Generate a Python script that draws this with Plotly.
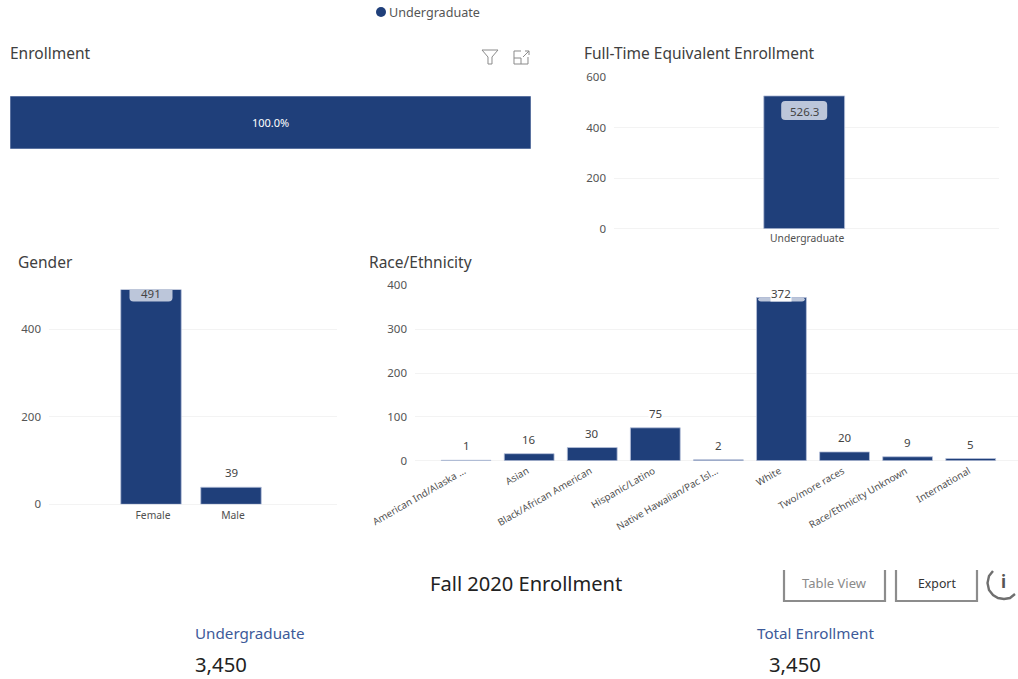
import plotly.graph_objects as go

# Enrollment dashboard, Fall 2020
level_names = ["Undergraduate"]
enrollment_share = [100.0]
fte_values = [526.3]
gender_names = ["Female", "Male"]
gender_values = [491, 39]
race_names = [
    "American Ind/Alaska ...", "Asian", "Black/African American", "Hispanic/Latino",
    "Native Hawaiian/Pac Isl...", "White", "Two/more races", "Race/Ethnicity Unknown",
    "International",
]
race_values = [1, 16, 30, 75, 2, 372, 20, 9, 5]
undergrad_total = 3450
overall_total = 3450

W, H = 1018, 679
NAVY = "#1f3f7a"
EDGE = "#b7c2da"
PILL = "#bcc6da"
GRID = "#f3f3f3"
TICK = "#555555"
TITLE = "#404040"
FONT = "Noto Sans"


def px(x):
    return x / W


def py(y):
    return 1 - y / H


def dom_x(a, b):
    return [px(a), px(b)]


def dom_y(top, bottom):
    return [py(bottom), py(top)]


def paper_path(points, close=False):
    # Dashboard chrome is laid out in page pixels and converted to paper space.
    segs = [f"{'M' if i == 0 else 'L'} {px(x):.5f} {py(y):.5f}" for i, (x, y) in enumerate(points)]
    return " ".join(segs) + (" Z" if close else "")


def chrome_line(points, color, width, close=False):
    return dict(type="path", xref="paper", yref="paper", path=paper_path(points, close),
                line=dict(color=color, width=width), layer="above")


def pill_shape(xref, yref, cat, value, half_w, top, bottom, r):
    # Rounded label backing, anchored to the bar top and clipped by the plot area.
    path = (f"M {-half_w} {-bottom + r} Q {-half_w} {-bottom} {-half_w + r} {-bottom} "
            f"L {half_w - r} {-bottom} Q {half_w} {-bottom} {half_w} {-bottom + r} "
            f"L {half_w} {-top - r} Q {half_w} {-top} {half_w - r} {-top} "
            f"L {-half_w + r} {-top} Q {-half_w} {-top} {-half_w} {-top - r} Z")
    return dict(type="path", xref=xref, yref=yref, xsizemode="pixel", ysizemode="pixel",
                xanchor=cat, yanchor=value, path=path, fillcolor=PILL,
                line=dict(width=0), layer="above")


def page_text(x, y, text, size, color="#333333", anchor="left"):
    return dict(xref="paper", yref="paper", x=px(x), y=py(y), text=text, showarrow=False,
                xanchor=anchor, yanchor="middle", font=dict(size=size, color=color, family=FONT))


def value_label(xref, yref, cat, value, shift, bg="rgba(255,255,255,0.95)"):
    return dict(xref=xref, yref=yref, x=cat, y=value, text=str(value), showarrow=False,
                yanchor="middle", yshift=shift, bgcolor=bg, borderpad=0,
                font=dict(size=11.5, color="#444444", family=FONT))


def value_axis(domain, rng, ticks, anchor):
    return dict(domain=domain, range=rng, tickvals=ticks, anchor=anchor, gridcolor=GRID, gridwidth=1,
                zeroline=True, zerolinecolor=GRID, zerolinewidth=1, showline=False,
                ticklabelstandoff=7, tickfont=dict(size=11.5, color=TICK, family=FONT))


def category_axis(domain, rng, anchor, shift, standoff, angle=0, size=10.3):
    return dict(domain=domain, range=rng, type="category", anchor=anchor, showgrid=False,
                showline=False, tickangle=angle, ticklabelstandoff=standoff, ticklabelshift=shift,
                tickfont=dict(size=size, color="#505050", family=FONT))


def bars(x, y, xaxis, yaxis, width, orientation="v", **kw):
    return go.Bar(x=x, y=y, xaxis=xaxis, yaxis=yaxis, width=width, orientation=orientation,
                  marker=dict(color=NAVY, line=dict(color=EDGE, width=0.8)), showlegend=False,
                  hoverinfo="skip", **kw)


fig = go.Figure()
fig.add_trace(bars(enrollment_share, level_names, "x", "y", 1.0, "h",
                   text=[f"{v:.1f}%" for v in enrollment_share], textposition="inside",
                   insidetextanchor="middle", constraintext="none",
                   insidetextfont=dict(size=11, color="white", family=FONT)))
fig.add_trace(bars(level_names, fte_values, "x2", "y2", 0.21))
fig.add_trace(bars(gender_names, gender_values, "x3", "y3", 0.756))
fig.add_trace(bars(race_names, race_values, "x4", "y4", 0.79))

shapes = [
    pill_shape("x2", "y2", level_names[0], fte_values[0], 23, 5, 24, 4),
    pill_shape("x3", "y3", gender_names[0], gender_values[0], 21.5, -4, 12, 4),
    # Only the part of this backing that overlaps the bar is tinted
    pill_shape("x4", "y4", race_names[5], race_values[5], 23.5, 0, 4, 3),
    # Legend swatch
    dict(type="circle", xref="paper", yref="paper", x0=px(376), x1=px(386), y0=py(17), y1=py(7),
         fillcolor=NAVY, line=dict(width=0), layer="above"),
    # Filter funnel
    chrome_line([(482, 50), (498, 50), (492, 57), (492, 64), (488, 64), (488, 57)], "#8a8a8a", 1, True),
    # Focus-mode icon
    chrome_line([(521, 51), (514, 51), (514, 64), (528, 64), (528, 57)], "#8a8a8a", 1),
    chrome_line([(514, 58), (521, 58), (521, 64)], "#8a8a8a", 1),
    chrome_line([(523, 57), (529, 51)], "#8a8a8a", 1),
    chrome_line([(525, 51), (529, 51), (529, 55)], "#8a8a8a", 1),
    # Clipped button frames
    chrome_line([(784, 570), (784, 601), (885, 601), (885, 570)], "#8c8c8c", 2.2),
    chrome_line([(896, 570), (896, 601), (977, 601), (977, 570)], "#8c8c8c", 2.2),
    # Partly hidden info ring
    chrome_line([(993, 571), (989, 576), (987.5, 583), (989, 590), (993, 595), (998, 598),
                 (1004, 599), (1010, 598), (1015, 594)], "#6f6f6f", 2.4),
]

annotations = [
    page_text(387, 12, "Undergraduate", 12.6, "#555555"),
    page_text(8, 53, "Enrollment", 15.5, TITLE),
    page_text(582, 53, "Full-Time Equivalent Enrollment", 15.5, TITLE),
    page_text(16, 262, "Gender", 15.5, TITLE),
    page_text(367, 262, "Race/Ethnicity", 15.5, TITLE),
    page_text(526, 583, "Fall 2020 Enrollment", 20.1, "#222222", "center"),
    page_text(249.5, 633, "Undergraduate", 15.2, "#3d5a99", "center"),
    page_text(815, 633, "Total Enrollment", 15.2, "#3d5a99", "center"),
    page_text(221, 664, f"{undergrad_total:,}", 20.3, "#222222", "center"),
    page_text(795, 664, f"{overall_total:,}", 20.3, "#222222", "center"),
    page_text(834, 583, "Table View", 13, "#8a8a8a", "center"),
    page_text(937, 583, "Export", 12.3, "#333333", "center"),
    page_text(1003, 581, "<b>i</b>", 17, "#555555", "center"),
    # Bar value labels
    value_label("x2", "y2", level_names[0], fte_values[0], -16, "rgba(0,0,0,0)"),
    value_label("x3", "y3", gender_names[0], gender_values[0], -4, "rgba(0,0,0,0)"),
    value_label("x3", "y3", gender_names[1], gender_values[1], 15),
]
for i, (name, val) in enumerate(zip(race_names, race_values)):
    annotations.append(value_label("x4", "y4", name, val, 14.5 if i != 5 else 4))

fig.update_layout(
    width=W, height=H, margin=dict(l=0, r=0, t=0, b=0, autoexpand=False), autosize=False,
    paper_bgcolor="white", plot_bgcolor="white", barmode="overlay",
    font=dict(family=FONT), showlegend=False,
    xaxis=dict(domain=dom_x(10, 531), range=[0, 100], visible=False, anchor="y"),
    yaxis=dict(domain=dom_y(96, 149), range=[-0.5, 0.5], type="category", visible=False, anchor="x"),
    xaxis2=category_axis(dom_x(614, 999), [-0.494, 0.506], "y2", 3, 2),
    yaxis2=value_axis(dom_y(77.3, 228.7), [0, 600], [0, 200, 400, 600], "x2"),
    xaxis3=category_axis(dom_x(49, 337), [-1.275, 2.325], "y3", 2, 3),
    yaxis3=value_axis(dom_y(289.5, 504.3), [0, 491], [0, 200, 400], "x3"),
    xaxis4=category_axis(dom_x(415, 1018), [-0.81, 8.75], "y4", -2, 2, angle=-30, size=9.8),
    yaxis4=value_axis(dom_y(285.3, 460.7), [0, 400], [0, 100, 200, 300, 400], "x4"),
    shapes=shapes, annotations=annotations,
)

fig.write_html("out.html", config={"displayModeBar": False})
